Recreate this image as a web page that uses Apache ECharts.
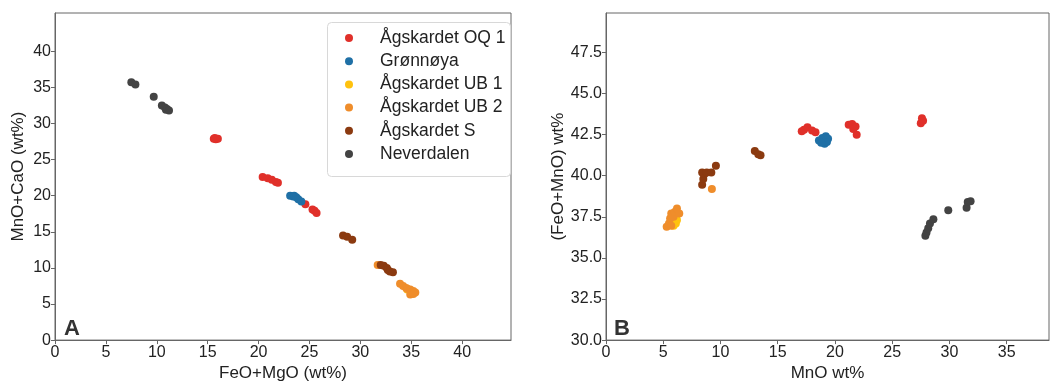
<!DOCTYPE html>
<html>
<head>
<meta charset="utf-8">
<script src="https://cdn.jsdelivr.net/npm/echarts@6/dist/echarts.min.js"></script>
<style>html,body{margin:0;padding:0;background:#fff}#c{width:1050px;height:387px}</style>
</head>
<body>
<div id="c"></div>
<script>
var seriesNames = ['Ågskardet OQ 1', 'Grønnøya', 'Ågskardet UB 1', 'Ågskardet UB 2', 'Ågskardet S', 'Neverdalen'];
var seriesColors = ['#e0302a', '#1f70a6', '#ffc20e', '#ef8d2b', '#8b3a10', '#434343'];

// Panel A: FeO+MgO (wt%) vs MnO+CaO (wt%)
var aOQ1 = [[15.6,27.9],[15.8,27.8],[16.0,27.9],[15.7,28.0],[20.4,22.6],[20.9,22.4],[21.3,22.2],[21.7,21.9],[21.9,21.8],[24.6,18.8],[25.3,18.1],[25.5,17.9],[25.7,17.6]];
var aGron = [[23.1,20.0],[23.4,19.9],[23.5,20.0],[23.7,19.8],[23.9,19.5],[24.2,19.2]];
var aUB1 = [[34.6,7.0],[35.0,6.8]];
var aUB2 = [[31.7,10.4],[33.9,7.8],[34.2,7.5],[34.5,7.2],[34.6,7.1],[34.9,7.0],[35.2,6.8],[35.4,6.6],[34.9,6.3],[35.2,6.4]];
var aS = [[28.3,14.5],[28.7,14.3],[29.2,13.9],[32.0,10.4],[32.3,10.3],[32.6,10.0],[32.7,9.7],[32.9,9.5],[33.2,9.4]];
var aNev = [[7.5,35.7],[7.9,35.4],[9.7,33.7],[10.5,32.5],[10.8,32.2],[10.9,31.9],[11.0,32.0],[11.2,31.8]];

// Panel B: MnO wt% vs (FeO+MnO) wt%
var bOQ1 = [[17.1,42.7],[17.3,42.8],[17.6,42.95],[18.0,42.75],[18.3,42.65],[21.2,43.1],[21.5,43.15],[21.8,43.0],[21.6,42.85],[21.9,42.5],[27.5,43.2],[27.6,43.5],[27.7,43.35]];
var bGron = [[18.6,42.15],[18.9,42.3],[19.2,42.4],[19.4,42.25],[19.1,41.95],[19.3,42.05],[18.8,42.0]];
var bUB1 = [[5.9,36.95],[6.1,37.1],[6.2,37.3],[5.8,37.0]];
var bUB2 = [[5.3,36.9],[5.5,37.1],[5.6,37.4],[5.7,37.7],[5.9,37.5],[6.0,37.8],[6.2,38.0],[6.4,37.7],[5.7,36.95],[9.25,39.2]];
var bS = [[8.4,39.45],[8.5,39.8],[8.6,40.1],[8.4,40.2],[8.8,40.2],[9.2,40.2],[9.6,40.6],[13.0,41.5],[13.3,41.3],[13.5,41.25]];
var bNev = [[27.9,36.35],[28.0,36.55],[28.15,36.8],[28.3,37.1],[28.6,37.35],[29.9,37.9],[31.5,38.05],[31.6,38.4],[31.85,38.45]];

var aTicks = [0,5,10,15,20,25,30,35,40];
var bXTicks = [0,5,10,15,20,25,30,35];
var bYTicks = [30,32.5,35,37.5,40,42.5,45,47.5];

var panelA = [aOQ1, aGron, aUB1, aUB2, aS, aNev];
var panelB = [bOQ1, bGron, bUB1, bUB2, bS, bNev];

var font = 'Liberation Sans, Arial, sans-serif';
function axisBase(name, gap, ticks, fmt) {
  return {
    type: 'value', name: name, nameLocation: 'middle', nameGap: gap,
    nameTextStyle: { fontSize: 17, color: '#222', fontFamily: font },
    axisLine: { show: true, onZero: false, lineStyle: { color: '#666', width: 1 } },
    axisTick: { show: true, length: 4, customValues: ticks, lineStyle: { color: '#666' } },
    axisLabel: { customValues: ticks, fontSize: 16, color: '#222', fontFamily: font, margin: 4,
      formatter: fmt || function (v) { return String(v); } },
    splitLine: { show: false }
  };
}
var f1 = function (v) { return v.toFixed(1); };

var series = [];
for (var i = 0; i < seriesNames.length; i++) {
  series.push({ name: seriesNames[i], type: 'scatter', xAxisIndex: 0, yAxisIndex: 0,
    data: panelA[i], symbolSize: 8, itemStyle: { color: seriesColors[i], opacity: 1 }, z: 2 + i });
}
for (var j = 0; j < seriesNames.length; j++) {
  series.push({ name: seriesNames[j], type: 'scatter', xAxisIndex: 1, yAxisIndex: 1,
    data: panelB[j], symbolSize: 8, itemStyle: { color: seriesColors[j], opacity: 1 }, z: 2 + j });
}

var xA = axisBase('FeO+MgO (wt%)', 23, aTicks); xA.gridIndex = 0; xA.min = 0; xA.max = 44.8;
var yA = axisBase('MnO+CaO (wt%)', 28, aTicks); yA.gridIndex = 0; yA.min = 0; yA.max = 45.3;
var xB = axisBase('MnO wt%', 23, bXTicks); xB.gridIndex = 1; xB.min = 0; xB.max = 38.7;
var yB = axisBase('(FeO+MnO) wt%', 31, bYTicks, f1); yB.gridIndex = 1; yB.min = 30; yB.max = 49.9;

var chart = echarts.init(document.getElementById('c'), null, { renderer: 'canvas' });
chart.setOption({
  animation: false,
  backgroundColor: '#fff',
  textStyle: { fontFamily: font },
  grid: [
    { left: 55, top: 13, width: 456, height: 334, show: true, borderColor: '#666', borderWidth: 1, backgroundColor: 'transparent' },
    { left: 606, top: 13, width: 443, height: 334, show: true, borderColor: '#666', borderWidth: 1, backgroundColor: 'transparent' }
  ],
  xAxis: [xA, xB],
  yAxis: [yA, yB],
  legend: {
    data: seriesNames, orient: 'vertical', left: 340, top: 24,
    itemWidth: 8, itemHeight: 8, itemGap: 5.2, icon: 'circle',
    textStyle: { fontSize: 17.5, color: '#222', fontFamily: font, padding: [0, 0, 0, 22] },
    backgroundColor: 'transparent'
  },
  graphic: [
    { type: 'rect', left: 327, top: 22, shape: { width: 183, height: 154, r: 4 },
      style: { fill: '#fff', stroke: '#d8d8d8', lineWidth: 1 }, z: 1 },
    { type: 'text', left: 64, top: 318, style: { text: 'A', fontSize: 22, fontWeight: 'bold', fill: '#333', fontFamily: font }, z: 10 },
    { type: 'text', left: 614, top: 318, style: { text: 'B', fontSize: 22, fontWeight: 'bold', fill: '#333', fontFamily: font }, z: 10 }
  ],
  series: series
});
</script>
</body>
</html>
